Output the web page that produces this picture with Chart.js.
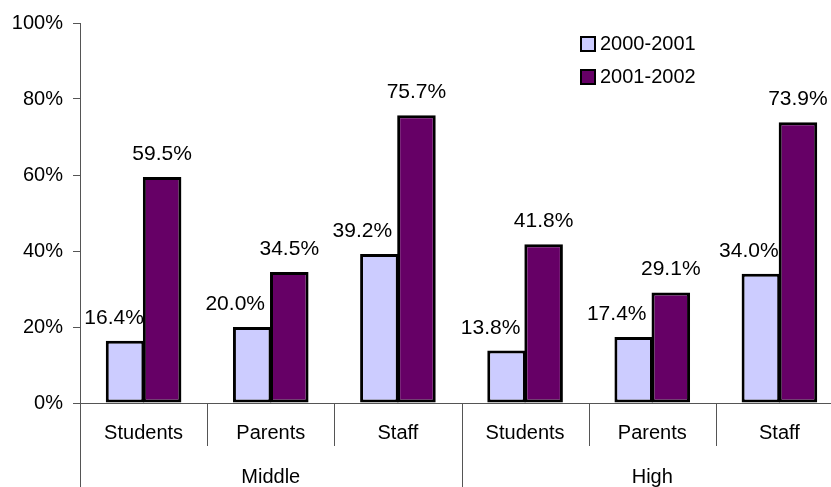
<!DOCTYPE html>
<html>
<head>
<meta charset="utf-8">
<script src="https://cdn.jsdelivr.net/npm/chart.js@4/dist/chart.umd.min.js"></script>
<style>
html,body{margin:0;padding:0;background:#fff;overflow:hidden;width:831px;height:487px;}
#wrap{position:absolute;left:0;top:0;width:845px;height:487px;}
</style>
</head>
<body>
<div id="wrap"><canvas id="c" width="845" height="487"></canvas></div>
<script>
// ---- data ----
const categories = ['Students', 'Parents', 'Staff', 'Students', 'Parents', 'Staff'];
const groups = ['Middle', 'High'];
const seriesNames = ['2000-2001', '2001-2002'];
const values2000 = [16.4, 20.0, 39.2, 13.8, 17.4, 34.0];
const values2001 = [59.5, 34.5, 75.7, 41.8, 29.1, 73.9];
const yTicks = [0, 20, 40, 60, 80, 100];

// ---- styles ----
const FONT = "'Liberation Sans', Arial, sans-serif";
const AXIS = '#555555';
const colors = ['#CCCCFF', '#660066'];
const labelShift = [[-11, -17, -17, -16, -17, -12], [0, 0, 0, 0, 0, 0]];

const overlay = {
  id: 'overlay',
  afterDatasetsDraw(chart) {
    const ctx = chart.ctx;
    const area = chart.chartArea;
    const x = chart.scales.x;
    const H = chart.height;
    ctx.save();
    ctx.strokeStyle = AXIS;
    ctx.lineWidth = 1;
    const n = categories.length;
    const per = n / groups.length;
    for (let i = 0; i <= n; i++) {
      let bx;
      if (i === 0) bx = area.left;
      else if (i === n) bx = area.right;
      else bx = (x.getPixelForValue(i - 1) + x.getPixelForValue(i)) / 2;
      const isGroup = i % per === 0;
      const yEnd = isGroup ? H : area.bottom + 43;
      ctx.beginPath();
      ctx.moveTo(Math.round(bx) + 0.5, area.bottom);
      ctx.lineTo(Math.round(bx) + 0.5, yEnd);
      ctx.stroke();
    }
    ctx.fillStyle = '#000';
    ctx.font = '20px ' + FONT;
    ctx.textAlign = 'center';
    ctx.textBaseline = 'alphabetic';
    groups.forEach((g, gi) => {
      const l = gi === 0 ? area.left : (x.getPixelForValue(gi * per - 1) + x.getPixelForValue(gi * per)) / 2;
      const r = gi === groups.length - 1 ? area.right : (x.getPixelForValue((gi + 1) * per - 1) + x.getPixelForValue((gi + 1) * per)) / 2;
      ctx.fillText(g, (l + r) / 2, 483);
    });
    ctx.font = '21px ' + FONT;
    chart.data.datasets.forEach((ds, di) => {
      const meta = chart.getDatasetMeta(di);
      meta.data.forEach((bar, i) => {
        ctx.fillText(ds.data[i].toFixed(1) + '%', bar.x + labelShift[di][i], bar.y - 17);
      });
    });
    ctx.font = '20px ' + FONT;
    ctx.textAlign = 'left';
    ctx.textBaseline = 'middle';
    seriesNames.forEach((name, i) => {
      const sy = 37 + i * 33;
      ctx.fillStyle = colors[i];
      ctx.fillRect(581, sy, 14, 14);
      ctx.strokeStyle = '#000';
      ctx.lineWidth = 2;
      ctx.strokeRect(581, sy, 14, 14);
      ctx.fillStyle = '#000';
      ctx.fillText(name, 600, sy + 7);
    });
    ctx.restore();
  }
};

new Chart(document.getElementById('c'), {
  type: 'bar',
  data: {
    labels: categories,
    datasets: [
      { label: seriesNames[0], data: values2000, backgroundColor: colors[0], borderColor: '#000', borderWidth: 3, borderSkipped: false },
      { label: seriesNames[1], data: values2001, backgroundColor: colors[1], borderColor: '#000', borderWidth: 3, borderSkipped: false }
    ]
  },
  options: {
    responsive: false,
    animation: false,
    devicePixelRatio: 1,
    layout: { padding: { top: 23, right: 2, left: 0, bottom: 0 } },
    datasets: { bar: { categoryPercentage: 0.583, barPercentage: 1.04 } },
    plugins: { legend: { display: false }, tooltip: { enabled: false } },
    scales: {
      x: {
        grid: { display: false },
        border: { display: true, color: AXIS, width: 1 },
        ticks: { color: '#000', font: { family: FONT, size: 20 }, padding: 10, maxRotation: 0, autoSkip: false },
        afterFit(scale) { scale.height = 84; }
      },
      y: {
        min: 0, max: 100,
        afterBuildTicks(scale) { scale.ticks = yTicks.map(v => ({ value: v })); },
        grid: { drawOnChartArea: false, tickLength: 7, color: AXIS },
        border: { display: true, color: AXIS, width: 1 },
        ticks: { color: '#000', font: { family: FONT, size: 20 }, padding: 10, callback: v => v + '%' },
        afterFit(scale) { scale.width = 80; }
      }
    }
  },
  plugins: [overlay]
});
</script>
</body>
</html>
